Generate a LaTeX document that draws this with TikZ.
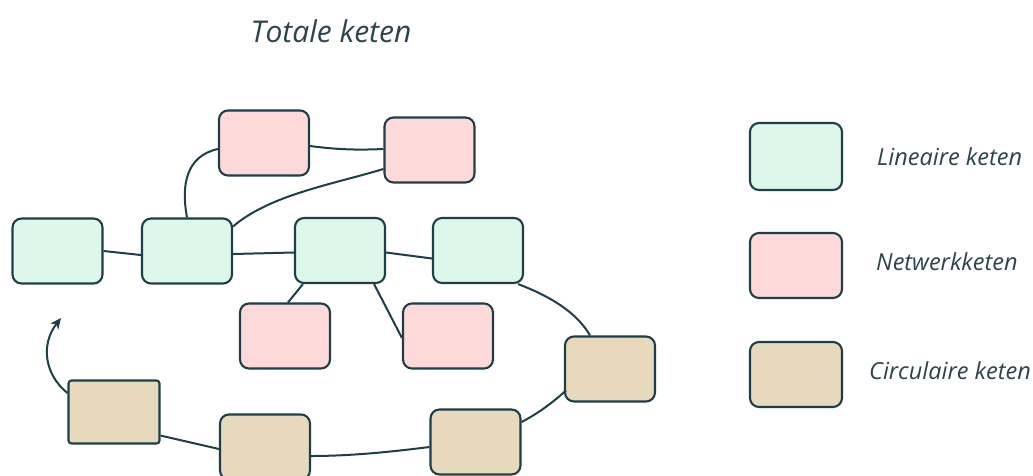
\documentclass[tikz,border=0pt]{standalone}
\usepackage{fontspec}
\setmainfont{Open Sans}
\usetikzlibrary{calc,arrows.meta}
\definecolor{ink}{RGB}{30,62,72}
\definecolor{txt}{RGB}{44,68,78}
\definecolor{gfill}{RGB}{221,248,234}
\definecolor{pfill}{RGB}{253,217,217}
\definecolor{tfill}{RGB}{230,217,188}
\tikzset{
  box/.style={draw=ink,line width=2.1pt,rounded corners=9pt,minimum width=90pt,minimum height=65pt,inner sep=0pt},
  gbox/.style={box,fill=gfill},
  pbox/.style={box,fill=pfill},
  tbox/.style={box,fill=tfill},
  link/.style={draw=ink,line width=2pt},
  lbl/.style={text=txt,font=\itshape\fontsize{23.5}{28}\selectfont,anchor=west,inner sep=0pt},
}
\begin{document}
\begin{tikzpicture}[x=1pt,y=-1pt]
\useasboundingbox (0,0) rectangle (1033,475);
\fill[white] (0,0) rectangle (1033,475);
% title
\node[text=txt,font=\itshape\fontsize{30}{36}\selectfont,inner sep=0pt] (title) at (331,31) {Totale keten};
% green
\node[gbox] (g1) at (57.5,251) {};
\node[gbox] (g2) at (187,251) {};
\node[gbox] (g3) at (340,250.5) {};
\node[gbox] (g4) at (478,250.5) {};
% pink
\node[pbox] (p1) at (264,143) {};
\node[pbox] (p2) at (429.5,150) {};
\node[pbox] (p3) at (285,336) {};
\node[pbox] (p4) at (448,336) {};
% tan
\node[tbox] (t1) at (610,369) {};
\node[tbox] (t2) at (475.5,442) {};
\node[tbox] (t3) at (265,447) {};
\node[tbox,rounded corners=3pt,minimum width=91pt,minimum height=63pt] (t4) at (114,412) {};
% connectors
\draw[link] (g1.east) -- ($(g2.west)+(0,4)$);
\draw[link] (g2.north) .. controls (181,185) and (186,156) .. ($(p1.west)+(0,6)$);
\draw[link] ($(p1.east)+(0,3)$) .. controls (340,150) and (360,150) .. ($(p2.west)+(0,-1)$);
\draw[link] ($(g2.north east)+(0,9)$) .. controls (270,195) and (330,185) .. ($(p2.west)+(0,19)$);
\draw[link] ($(g2.east)+(0,3)$) -- ($(g3.west)+(0,2)$);
\draw[link] ($(g3.east)+(0,2)$) -- ($(g4.west)+(0,8)$);
\draw[link] ($(g3.south west)+(9,0)$) -- ($(p3.north)+(3,0)$);
\draw[link] ($(g3.south east)+(-12,0)$) -- ($(p4.west)+(0,2)$);
\draw[link] ($(g4.south east)+(-6,0)$) .. controls (560,300) and (580,318) .. ($(t1.north)+(-20,0)$);
\draw[link] ($(t1.south west)+(2,-12)$) .. controls (550,405) and (535,415) .. ($(t2.east)+(0,-20)$);
\draw[link] ($(t2.west)+(0,5)$) .. controls (390,452) and (350,456) .. ($(t3.east)+(0,9)$);
\draw[link] ($(t3.west)+(0,2)$) -- ($(t4.south east)+(0,-9)$);
\draw[link,-{Stealth[length=11pt,width=10pt]}] ($(t4.west)+(0,-19)$) .. controls (45,375) and (40,345) .. (61,318);
% legend
\node[gbox,minimum width=92pt,minimum height=67pt] (lg) at (796,156.5) {};
\node[pbox,minimum width=92pt,minimum height=65pt] (lp) at (796,265.5) {};
\node[tbox,minimum width=92pt,minimum height=65pt] (lt) at (796,374.5) {};
\node[lbl] (lgt) at (877,157) {Lineaire keten};
\node[lbl] (lpt) at (876,262) {Netwerkketen};
\node[lbl] (ltt) at (869,371) {Circulaire keten};
\end{tikzpicture}
\end{document}
